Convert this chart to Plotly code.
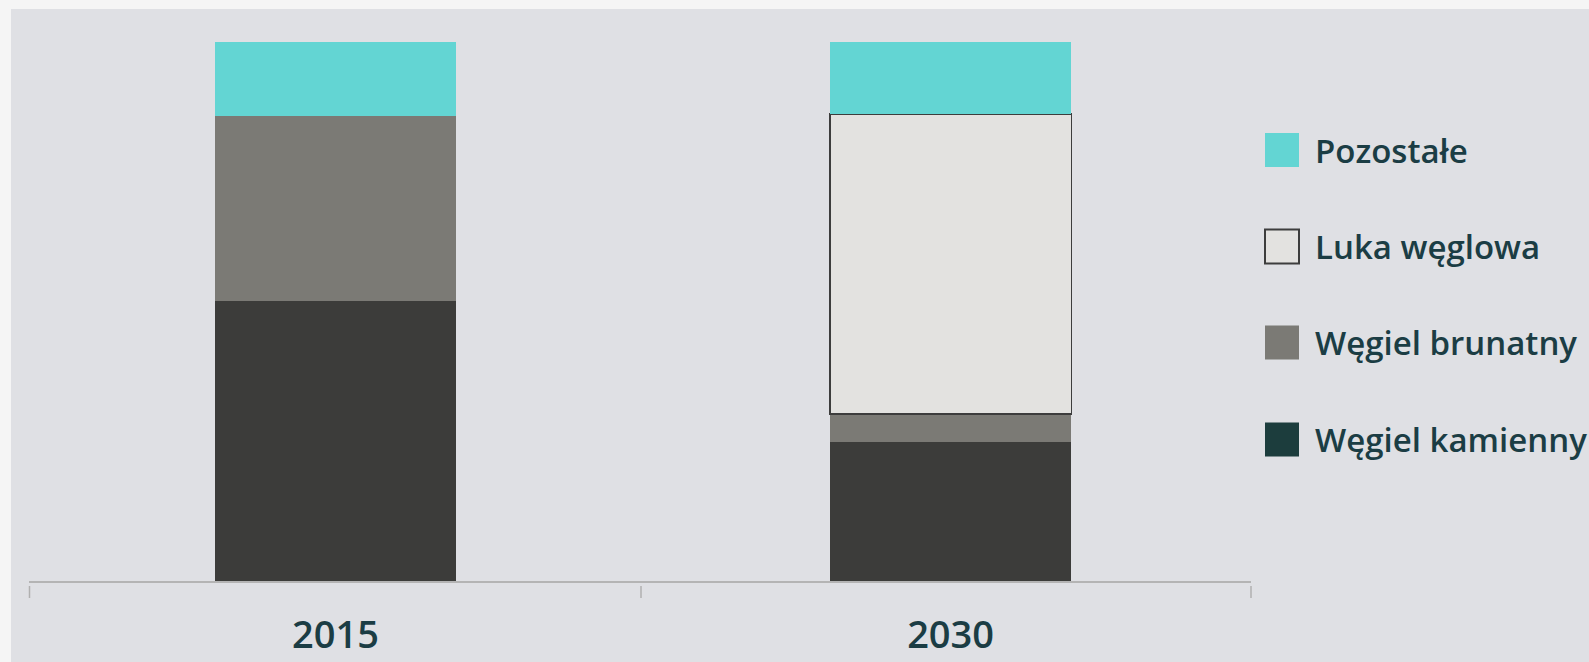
import plotly.graph_objects as go

categories = ["2015", "2030"]
wegiel_kamienny = [51.9, 25.8]
wegiel_brunatny = [34.4, 5.2]
luka_weglowa = [None, 55.6]
pozostale = [13.7, 13.4]

series_names = ["Węgiel kamienny", "Węgiel brunatny", "Luka węglowa", "Pozostałe"]
bar_colors = ["#3c3c3a", "#7b7a75", "#e3e2e0", "#63d5d3"]
legend_colors = ["#1c3d3d", "#7b7a75", "#e3e2e0", "#63d5d3"]

TEXT = "#1b3d44"
FONT = "Open Sans"

W, H = 1589, 662
ML, MR, MT, MB = 29, 338, 42, 81
PW = W - ML - MR
PH = H - MT - MB

def px_x(x):
    return (x - ML) / PW

def px_y(y):
    return (H - MB - y) / PH

# x mapping: bar centres at ~335.4 px and ~950.6 px
unit_px = 950.6 - 335.4
x_lo = -(335.4 - ML) / unit_px
x_hi = x_lo + PW / unit_px

fig = go.Figure()
values = [wegiel_kamienny, wegiel_brunatny, luka_weglowa, pozostale]
for name, vals, col in zip(series_names, values, bar_colors):
    is_gap = name == "Luka węglowa"
    fig.add_trace(go.Bar(
        x=categories, y=vals, name=name,
        marker=dict(color=col,
                    line=dict(color="#3d3d3d" if is_gap else col,
                              width=1.6 if is_gap else 0)),
        width=0.393, showlegend=False,
    ))

shapes = []
# panel background
shapes.append(dict(type="rect", xref="paper", yref="paper",
                   x0=px_x(11), x1=px_x(W + 5), y0=px_y(H + 5), y1=px_y(9),
                   fillcolor="#dfe0e4", line=dict(width=0), layer="below"))
# axis ticks at category boundaries
for xp in [29.5, 641, 1251]:
    shapes.append(dict(type="line", xref="paper", yref="paper",
                       x0=px_x(xp), x1=px_x(xp), y0=px_y(586), y1=px_y(598),
                       line=dict(color="#b0b0b0", width=1.5)))

# manual legend (top to bottom)
annotations = []
legend_centers = [150, 246.5, 342.5, 439.5]
order = [3, 2, 1, 0]
for yc, idx in zip(legend_centers, order):
    is_gap = series_names[idx] == "Luka węglowa"
    shapes.append(dict(type="rect", xref="paper", yref="paper",
                       x0=px_x(1265), x1=px_x(1299),
                       y0=px_y(yc + 17), y1=px_y(yc - 17),
                       fillcolor=legend_colors[idx],
                       line=dict(color="#3d3d3d" if is_gap else legend_colors[idx],
                                 width=2 if is_gap else 0)))
    annotations.append(dict(xref="paper", yref="paper", x=px_x(1313), y=px_y(yc),
                            text=series_names[idx], showarrow=False,
                            xanchor="left", yanchor="middle",
                            font=dict(family=FONT, size=33, color=TEXT, weight=600)))

fig.update_layout(
    width=W, height=H,
    margin=dict(l=ML, r=MR, t=MT, b=MB, pad=0, autoexpand=False),
    barmode="stack",
    paper_bgcolor="#f5f5f5",
    plot_bgcolor="rgba(0,0,0,0)",
    showlegend=False,
    shapes=shapes,
    annotations=annotations,
    xaxis=dict(type="category", range=[x_lo, x_hi], showgrid=False,
               showline=True, linecolor="#b4b4b4", linewidth=1.5,
               ticks="outside", ticklen=20, tickcolor="rgba(0,0,0,0)",
               tickfont=dict(family=FONT, size=38, color=TEXT, weight=600),
               zeroline=False, automargin=False),
    yaxis=dict(range=[0, 100], visible=False, showgrid=False, zeroline=False,
               automargin=False),
)

fig.write_html(
    "out.html",
    config={"displayModeBar": False},
    post_script="document.body.style.margin='0';document.body.style.overflow='hidden';document.body.style.background='#f5f5f5';",
)
